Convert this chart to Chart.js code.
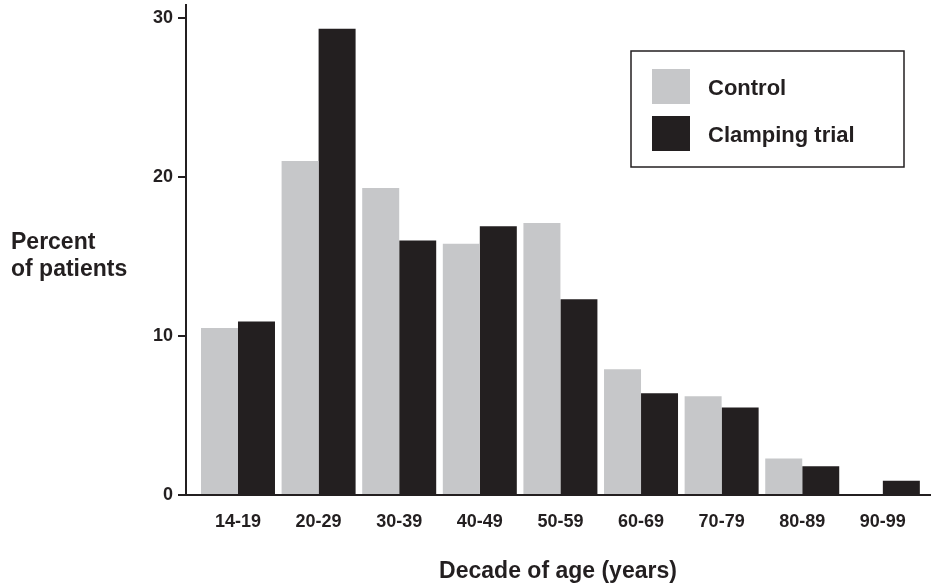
<!DOCTYPE html>
<html>
<head>
<meta charset="utf-8">
<title>Percent of patients by decade of age</title>
<script src="https://cdn.jsdelivr.net/npm/chart.js@4.4.1/dist/chart.umd.min.js"></script>
<style>
    body { margin: 0; background: #ffffff; }
    #grafico { display: block; }
</style>
</head>
<body>
<canvas id="grafico" width="931" height="587"></canvas>
<script>
// dados (percentual de pacientes por década de idade)
const categorias = ['14-19', '20-29', '30-39', '40-49', '50-59', '60-69', '70-79', '80-89', '90-99'];
const controle = [10.5, 21.0, 19.3, 15.8, 17.1, 7.9, 6.2, 2.3, 0];
const clamping = [10.9, 29.3, 16.0, 16.9, 12.3, 6.4, 5.5, 1.8, 0.9];
const marcasY = [0, 10, 20, 30];

const nomesSeries = ['Control', 'Clamping trial'];
const tituloX = 'Decade of age (years)';
const tituloY = ['Percent', 'of patients'];

const corControle = '#c6c7c9';
const corClamping = '#231f20';
const corTexto = '#231f20';
const fonte = 'Arial, "Liberation Sans", Helvetica, sans-serif';

// eixo x é linear para deixar a margem do eixo como na figura original
function paraPontos(valores) {
    return valores.map((v, i) => ({ x: i, y: v }));
}

// desenha a legenda com moldura, o título do eixo y (horizontal) e o título do eixo x
const extras = {
    id: 'extras',
    afterDraw(chart) {
        const ctx = chart.ctx;
        const area = chart.chartArea;
        ctx.save();

        // moldura da legenda
        ctx.strokeStyle = corTexto;
        ctx.lineWidth = 1.5;
        ctx.strokeRect(631, 51, 273, 116);

        chart.data.datasets.forEach((ds, i) => {
            let y = 69 + i * 47;
            ctx.fillStyle = ds.backgroundColor;
            ctx.fillRect(652, y, 38, 35);
            ctx.fillStyle = corTexto;
            ctx.font = 'bold 22px ' + fonte;
            ctx.textAlign = 'left';
            ctx.textBaseline = 'middle';
            ctx.fillText(ds.label, 708, y + 20);
        });

        // título do eixo y, em duas linhas e sem rotação
        ctx.font = 'bold 23px ' + fonte;
        ctx.textAlign = 'left';
        ctx.textBaseline = 'middle';
        tituloY.forEach((linha, i) => {
            ctx.fillText(linha, 11, 243 + i * 27);
        });

        // título do eixo x
        ctx.textAlign = 'center';
        ctx.fillText(tituloX, (area.left + area.right) / 2, 572);

        ctx.restore();
    }
};

function plotarGrafico() {
    const dados = {
        datasets: [{
            label: nomesSeries[0],
            data: paraPontos(controle),
            backgroundColor: corControle,
            borderWidth: 0
        }, {
            label: nomesSeries[1],
            data: paraPontos(clamping),
            backgroundColor: corClamping,
            borderWidth: 0
        }]
    };

    const config = {
        type: 'bar',
        data: dados,
        options: {
            responsive: false,
            animation: false,
            devicePixelRatio: 1,
            layout: { padding: { top: 5, right: 1, left: 0, bottom: 0 } },
            datasets: {
                bar: { categoryPercentage: 0.918, barPercentage: 1.0 }
            },
            plugins: {
                legend: { display: false },
                tooltip: { enabled: false },
                title: { display: false }
            },
            scales: {
                x: {
                    type: 'linear',
                    offset: false,
                    min: -0.645,
                    max: 8.585,
                    afterFit: (escala) => {
                        escala.height = 92;
                        escala.paddingLeft = 0;
                        escala.paddingRight = 0;
                    },
                    afterBuildTicks: (escala) => {
                        escala.ticks = categorias.map((c, i) => ({ value: i }));
                    },
                    ticks: {
                        autoSkip: false,
                        maxRotation: 0,
                        padding: 8,
                        color: corTexto,
                        font: { family: fonte, size: 18, weight: 'bold' },
                        callback: (valor) => categorias[valor] ?? ''
                    },
                    grid: { display: false, offset: false },
                    border: { display: true, color: corTexto, width: 2 }
                },
                y: {
                    min: 0,
                    max: 30.8,
                    afterFit: (escala) => {
                        escala.width = 186;
                        escala.paddingTop = 0;
                        escala.paddingBottom = 0;
                    },
                    afterBuildTicks: (escala) => {
                        escala.ticks = marcasY.map(v => ({ value: v }));
                    },
                    ticks: {
                        padding: 5,
                        color: corTexto,
                        font: { family: fonte, size: 18, weight: 'bold' }
                    },
                    grid: {
                        drawOnChartArea: false,
                        drawTicks: true,
                        tickLength: 8,
                        color: corTexto,
                        lineWidth: 2
                    },
                    border: { display: true, color: corTexto, width: 2 }
                }
            }
        },
        plugins: [extras]
    };

    let grafico = new Chart(document.getElementById('grafico'), config);
}

window.onload = plotarGrafico;
</script>
</body>
</html>
